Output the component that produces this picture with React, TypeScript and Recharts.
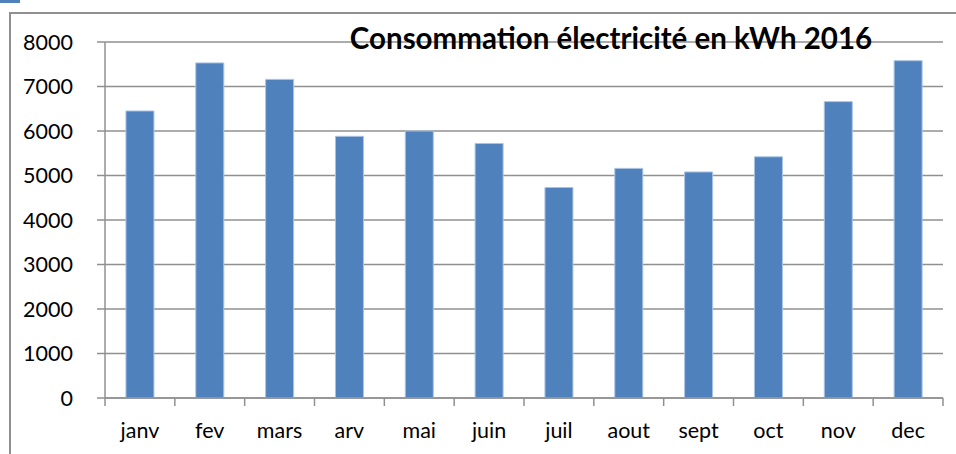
import React from "react";
import { BarChart, Bar, XAxis, YAxis, CartesianGrid } from "recharts";

const months = ["janv", "fev", "mars", "arv", "mai", "juin", "juil", "aout", "sept", "oct", "nov", "dec"];
const consumption = [6450, 7530, 7160, 5880, 6000, 5720, 4730, 5160, 5080, 5420, 6660, 7580];
const yTicks = [0, 1000, 2000, 3000, 4000, 5000, 6000, 7000, 8000];

const data = months.map((m, i) => ({ month: m, kwh: consumption[i] }));

const W = 956;
const H = 454;
const LEFT = 105;
const RIGHT = 13;
const TOP = 42;
const X_AXIS_H = 56;
const X_TICK_MARGIN = 25;
const FONT = "Lato, 'Open Sans', sans-serif";
const GRID = "#909090";

function MonthTick(props: any) {
  const { x, y, payload, index } = props;
  const half = (W - LEFT - RIGHT) / months.length / 2;
  const axisY = y - X_TICK_MARGIN;
  return (
    <g>
      <line x1={x - half} x2={x - half} y1={axisY} y2={axisY + 8} stroke={GRID} strokeWidth={1.5} />
      {index === months.length - 1 && (
        <line x1={x + half} x2={x + half} y1={axisY} y2={axisY + 8} stroke={GRID} strokeWidth={1.5} />
      )}
      <text x={x} y={y} dy="0.71em" textAnchor="middle" fill="#000" fontSize={21.5} fontFamily={FONT}>
        {payload.value}
      </text>
    </g>
  );
}

export default function App() {
  return (
    <div style={{ position: "absolute", left: 0, top: 0, width: W, height: H, background: "#fff", overflow: "hidden" }}>
      <div style={{ position: "absolute", left: 0, top: 0, width: 20, height: 3, background: "#4f81bd" }} />
      <div
        style={{
          position: "absolute",
          left: 9,
          top: 12,
          width: W,
          height: H,
          borderLeft: `2px solid ${GRID}`,
          borderTop: `2px solid ${GRID}`,
        }}
      />
      <BarChart
        width={W}
        height={H}
        data={data}
        margin={{ top: TOP, right: RIGHT, bottom: 0, left: 0 }}
        barCategoryGap="30%"
        style={{ position: "absolute", left: 0, top: 0 }}
      >
        <CartesianGrid vertical={false} stroke={GRID} strokeWidth={1.5} />
        <XAxis
          dataKey="month"
          height={X_AXIS_H}
          axisLine={{ stroke: GRID, strokeWidth: 1.5 }}
          tickLine={false}
          tickSize={0}
          tickMargin={X_TICK_MARGIN}
          tick={<MonthTick />}
          interval={0}
        />
        <YAxis
          width={LEFT}
          domain={[0, 8000]}
          ticks={yTicks}
          interval={0}
          axisLine={{ stroke: GRID, strokeWidth: 1.5 }}
          tickLine={{ stroke: GRID, strokeWidth: 1.5 }}
          tickSize={8}
          tickMargin={24}
          tick={{ fill: "#000", fontSize: 21.5, fontFamily: FONT }}
        />
        <Bar dataKey="kwh" fill="#4f81bd" stroke="#a9c3e3" strokeWidth={1} isAnimationActive={false} />
      </BarChart>
      <div
        style={{
          position: "absolute",
          left: 340,
          width: 542,
          top: 21,
          textAlign: "center",
          fontFamily: FONT,
          fontWeight: 700,
          fontSize: 29.5,
          lineHeight: "34px",
          color: "#000",
        }}
      >
        Consommation électricité en kWh 2016
      </div>
    </div>
  );
}
